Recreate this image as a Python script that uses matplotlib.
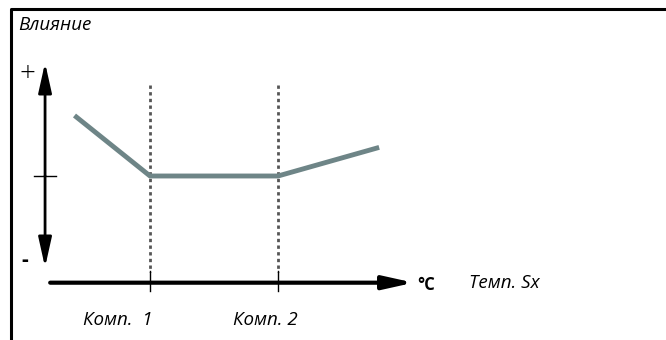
import matplotlib.pyplot as plt

# influence curve (temperature in units of the break points, influence arbitrary)
temps = [0.41, 1.0, 2.0, 2.79]
influence = [0.55, 0.0, 0.0, 0.26]
comp_pos = [1.0, 2.0]
comp_labels = ["Комп.  1", "Комп. 2"]

plt.rcParams['font.family'] = ['Open Sans', 'DejaVu Sans']

fig = plt.figure(figsize=(6.66, 3.4), dpi=100)
ax = fig.add_axes([0, 0, 1, 1])
ax.set_xlim(-0.172, 5.031)
ax.set_ylim(-1.491, 1.6)
ax.axis('off')

# frame (top and left)
ax.plot([0.017, 0.017, 1.0], [0.0, 0.975, 0.975], color='black', lw=2.2,
        transform=ax.transAxes, solid_capstyle='butt', clip_on=False)

# y axis double arrow
yx = 0.18
head = '-|>,head_length=1.8,head_width=0.4'
ax.annotate('', xy=(yx, 1.03), xytext=(yx, 0.0),
            arrowprops=dict(arrowstyle=head, color='black', lw=2, shrinkA=0, shrinkB=0))
ax.annotate('', xy=(yx, -0.83), xytext=(yx, 0.0),
            arrowprops=dict(arrowstyle=head, color='black', lw=2, shrinkA=0, shrinkB=0))
ax.plot([0.094, 0.266], [0, 0], color='black', lw=1)
ax.text(0.04, 0.93, '+', fontsize=20, fontweight='light', ha='center', va='center')
ax.text(0.02, -0.77, '-', fontsize=15, fontweight='bold', ha='center', va='center')

# x axis arrow
ax.annotate('', xy=(3.06, -0.97), xytext=(0.22, -0.97),
            arrowprops=dict(arrowstyle='-|>,head_length=1.8,head_width=0.4', color='black', lw=3,
                            shrinkA=0, shrinkB=0))
ax.text(3.09, -0.99, '°C', fontsize=12, fontweight='bold', ha='left', va='center')
ax.text(3.49, -0.97, 'Темп. Sx', fontsize=13.5, style='italic', ha='left', va='center')

# compressor lines
label_shift = [-0.255, -0.095]
for p, lab, s in zip(comp_pos, comp_labels, label_shift):
    ax.plot([p, p], [0.83, -0.87], color='#555555', lw=2, linestyle=(0, (1.2, 1.2)))
    ax.plot([p, p], [-0.86, -1.05], color='black', lw=1)
    ax.text(p + s, -1.31, lab, fontsize=13.5, style='italic', ha='center', va='center')

ax.plot(temps, influence, color='#6e8587', lw=3.5, solid_capstyle='butt', solid_joinstyle='miter')

ax.text(0.028, 0.925, 'Влияние', fontsize=13.5, style='italic', ha='left', va='center',
        transform=ax.transAxes)

fig.savefig('out.png', dpi=100)
